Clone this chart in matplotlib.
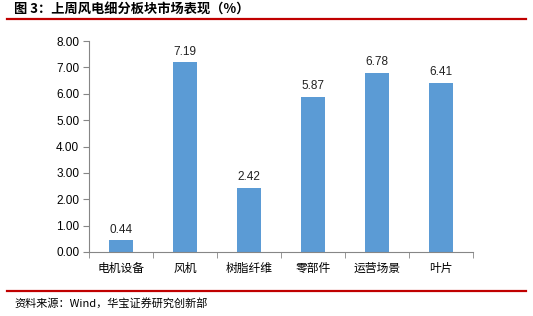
import matplotlib
matplotlib.use("Agg")
import matplotlib.pyplot as plt
import numpy as np

plt.rcParams['font.family'] = ['Liberation Sans', 'Noto Sans CJK SC', 'DejaVu Sans']

categories = ["电机设备", "风机", "树脂纤维", "零部件", "运营场景", "叶片"]
values = [0.44, 7.19, 2.42, 5.87, 6.78, 6.41]
yticks = [0, 1, 2, 3, 4, 5, 6, 7, 8]

fig = plt.figure(figsize=(5.33, 3.16), dpi=100)
ax = fig.add_axes([89/533, 1-252/316, (473-89)/533, (252-41)/316])

xs = np.arange(len(categories))
ax.bar(xs, values, width=0.39, color="#5B9BD5")
for x, v in zip(xs, values):
    ax.text(x, v + 0.18, f"{v:.2f}", ha="center", va="bottom", fontsize=8.5, color="#222222")

ax.set_xlim(-0.5, len(categories) - 0.5)
ax.set_ylim(0, 8)
ax.set_yticks(yticks)
ax.set_yticklabels([f"{t:.2f}" for t in yticks], fontsize=8.5)
ax.set_xticks(xs)
ax.set_xticklabels(categories, fontsize=8.5, family=['Noto Sans CJK SC', 'DejaVu Sans'])
ax.tick_params(axis="x", length=0, pad=7)
ax.set_xticks(np.arange(-0.5, len(categories), 1), minor=True)
ax.tick_params(axis="x", which="minor", length=4, color="#868686")
ax.tick_params(axis="y", length=4, color="#868686", pad=3)
for s in ["top", "right"]:
    ax.spines[s].set_visible(False)
for s in ["left", "bottom"]:
    ax.spines[s].set_color("#868686")
    ax.spines[s].set_linewidth(0.8)

fig.text(14/533, 1-10/316, "图 3：上周风电细分板块市场表现（%）", fontsize=9.5,
         fontweight="bold", va="center", ha="left", family=['Noto Sans CJK SC', 'DejaVu Sans'])
fig.add_artist(plt.Line2D([7/533, 526/533], [1-19/316, 1-19/316], color="#C00000", lw=1.6))
fig.add_artist(plt.Line2D([7/533, 526/533], [1-291/316, 1-291/316], color="#C00000", lw=1.6))
fig.text(14/533, 1-303/316, "资料来源：Wind，华宝证券研究创新部", fontsize=8,
         va="center", ha="left", family=['Noto Sans CJK SC', 'DejaVu Sans'])

fig.savefig("out.png", dpi=100)
